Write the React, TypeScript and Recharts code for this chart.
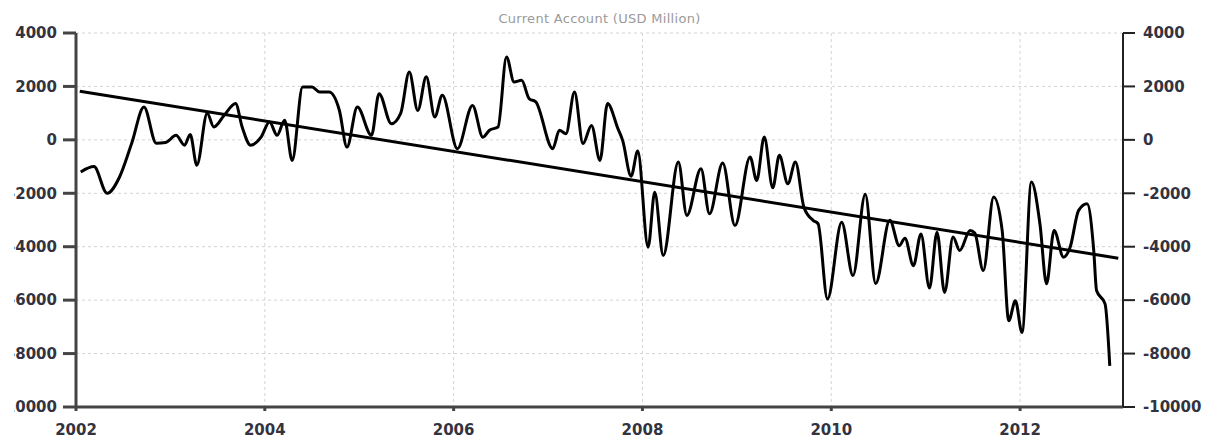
import { LineChart, Line, XAxis, YAxis, CartesianGrid } from 'recharts'

// decimal year of each reading
const readingYears = [
    2002.05, 2002.19, 2002.33, 2002.46, 2002.59, 2002.72, 2002.85, 2002.95, 2003.06, 2003.15,
    2003.21, 2003.28, 2003.39, 2003.46, 2003.57, 2003.69, 2003.76, 2003.85, 2003.96, 2004.05,
    2004.13, 2004.21, 2004.29, 2004.4, 2004.5, 2004.58, 2004.68, 2004.79, 2004.87, 2004.98,
    2005.13, 2005.21, 2005.34, 2005.44, 2005.53, 2005.62, 2005.71, 2005.8, 2005.88, 2006.04,
    2006.2, 2006.31, 2006.38, 2006.47, 2006.56, 2006.64, 2006.72, 2006.8, 2006.87, 2007.05,
    2007.12, 2007.19, 2007.28, 2007.37, 2007.46, 2007.55, 2007.63, 2007.74, 2007.79, 2007.88,
    2007.95, 2008.06, 2008.13, 2008.22, 2008.38, 2008.47, 2008.62, 2008.71, 2008.85, 2008.98,
    2009.14, 2009.21, 2009.29, 2009.38, 2009.45, 2009.54, 2009.62, 2009.71, 2009.81, 2009.86,
    2009.96, 2010.11, 2010.23, 2010.36, 2010.47, 2010.62, 2010.72, 2010.78, 2010.87, 2010.95,
    2011.04, 2011.12, 2011.2, 2011.29, 2011.36, 2011.47, 2011.52, 2011.61, 2011.72, 2011.81,
    2011.88, 2011.95, 2012.02, 2012.12, 2012.21, 2012.28, 2012.36, 2012.46, 2012.53, 2012.62,
    2012.71, 2012.78, 2012.81, 2012.9, 2012.95,
]

// current account, USD million
const currentAccount = [
    -1200, -1000, -2000, -1400, -130, 1230, -130, -100, 170, -200,
    200, -950, 1000, 480, 920, 1360, 480, -200, 100, 670,
    170, 730, -770, 1980, 1980, 1790, 1790, 1100, -270, 1230,
    170, 1730, 600, 1000, 2540, 1100, 2360, 860, 1670, -330,
    1290, 100, 360, 480, 3100, 2170, 2230, 1540, 1420, -330,
    360, 230, 1790, -140, 540, -770, 1360, 420, -20, -1360,
    -420, -4020, -1960, -4330, -830, -2830, -1080, -2770, -870, -3210,
    -640, -1520, 110, -1790, -580, -1640, -830, -2520, -3020, -3140,
    -5960, -3080, -5080, -2040, -5380, -3010, -3960, -3680, -4710, -3520,
    -5550, -3460, -5710, -3640, -4140, -3390, -3490, -4890, -2140, -3390,
    -6770, -6020, -7210, -1580, -3140, -5390, -3390, -4390, -4020, -2640,
    -2390, -4140, -5640, -6140, -8460,
]

const trendYears = [2002.04, 2013.04]
const trendValues = [1820, -4430]

const yearTicks = [2002, 2004, 2006, 2008, 2010, 2012]
const valueTicks = [-10000, -8000, -6000, -4000, -2000, 0, 2000, 4000]

const readings = readingYears.map((year, i) => ({ year, value: currentAccount[i] }))
const trend = trendYears.map((year, i) => ({ year, value: trendValues[i] }))

const tickFont = {
    fontSize: 15,
    fontWeight: 'bold',
    fill: '#33333f',
    fontFamily: 'DejaVu Sans',
}

export default function App() {
    // the left labels are cut by the left edge, as in the source image
    return (
        <div style={{ position: 'absolute', left: 14, top: 0, width: 1200, height: 443, overflow: 'hidden', background: '#fff' }}>
            <div style={{ position: 'relative', left: -14, width: 1214, height: 443 }}>
                {/* title */}
                <div
                    style={{
                        position: 'absolute',
                        left: 76,
                        width: 1047,
                        top: 11,
                        textAlign: 'center',
                        fontFamily: 'DejaVu Sans',
                        fontSize: 13,
                        color: '#9a9a9a',
                        letterSpacing: 0.3,
                    }}
                >
                    Current Account (USD Million)
                </div>
                <LineChart width={1214} height={443} margin={{ top: 33, right: 0, bottom: 0, left: 0 }}>
                    <CartesianGrid stroke="#d4d4d4" strokeDasharray="3 3" yAxisId="left" />
                    <XAxis
                        dataKey="year"
                        type="number"
                        domain={[2002, 2013.09]}
                        ticks={yearTicks}
                        allowDataOverflow
                        height={36}
                        tickSize={4}
                        tickMargin={13}
                        tick={tickFont}
                        axisLine={{ stroke: '#444', strokeWidth: 3 }}
                        tickLine={{ stroke: '#444', strokeWidth: 3 }}
                    />
                    <YAxis
                        yAxisId="left"
                        orientation="left"
                        width={76}
                        domain={[-10000, 4000]}
                        ticks={valueTicks}
                        interval={0}
                        tickSize={13}
                        tickMargin={6}
                        tick={tickFont}
                        axisLine={{ stroke: '#444', strokeWidth: 3 }}
                        tickLine={{ stroke: '#444', strokeWidth: 3 }}
                    />
                    <YAxis
                        yAxisId="right"
                        orientation="right"
                        width={91}
                        domain={[-10000, 4000]}
                        ticks={valueTicks}
                        interval={0}
                        tickSize={12}
                        tickMargin={8}
                        tick={tickFont}
                        axisLine={{ stroke: '#222', strokeWidth: 2 }}
                        tickLine={{ stroke: '#222', strokeWidth: 2 }}
                    />
                    <Line
                        yAxisId="left"
                        data={readings}
                        dataKey="value"
                        type="monotone"
                        stroke="#000"
                        strokeWidth={3}
                        dot={false}
                        activeDot={false}
                        isAnimationActive={false}
                    />
                    <Line
                        yAxisId="right"
                        data={trend}
                        dataKey="value"
                        type="linear"
                        stroke="#000"
                        strokeWidth={3}
                        dot={false}
                        activeDot={false}
                        isAnimationActive={false}
                    />
                </LineChart>
            </div>
        </div>
    )
}
